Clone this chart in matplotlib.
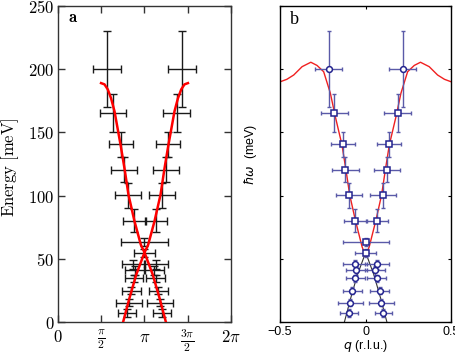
import numpy as np
import matplotlib
matplotlib.use('Agg')
import matplotlib.pyplot as plt

plt.rcParams['mathtext.fontset'] = 'cm'

# ---- data (q in r.l.u.; panel a uses 2*pi*(q+0.5)) ----
energy = [200, 165.5, 140.6, 120.4, 100.3, 80.2, 63.2, 54.8, 45.5, 41.0, 34.5, 24.8, 15.3, 7.2]
q_left = [-0.216, -0.183, -0.134, -0.118, -0.097, -0.060, 0.0, 0.0,
          -0.064, -0.055, -0.061, -0.077, -0.089, -0.099]
q_right = [0.216, 0.187, 0.138, 0.125, 0.103, 0.066, np.nan, np.nan,
           0.067, 0.055, 0.065, 0.081, 0.091, 0.104]
energy_err = [30, 15, 10, 10, 10, 9, 3, 3, 3.5, 3.5, 3, 3, 3, 3]
q_err = [0.080, 0.078, 0.070, 0.077, 0.075, 0.066, 0.134, 0.062,
         0.069, 0.060, 0.055, 0.054, 0.074, 0.052]

# model curves
upper_a_q = [0.0, 0.021, 0.058, 0.093, 0.116, 0.139, 0.174, 0.194, 0.213, 0.232, 0.252]
upper_a_E = [55, 61, 79.7, 100.7, 121.5, 140.3, 166.7, 177, 184, 188, 189]
lower_q = [0.0, 0.048, 0.087, 0.124]
lower_E = [55, 37.4, 19, 0]
upper_b_q = [0.0, 0.021, 0.06, 0.093, 0.115, 0.138, 0.177, 0.206, 0.245, 0.284,
             0.32, 0.371, 0.42, 0.46, 0.5]
upper_b_E = [52, 59.6, 80.5, 100.5, 120.3, 140, 162.4, 181, 198, 203,
             205.5, 202, 195.4, 192, 190]

xa_ticks = [0, np.pi / 2, np.pi, 3 * np.pi / 2, 2 * np.pi]
xa_ticklabels = ['$0$', r'$\frac{\pi}{2}$', r'$\pi$', r'$\frac{3\pi}{2}$', r'$2\pi$']
y_ticks = [0, 50, 100, 150, 200, 250]
xb_ticks = [-0.5, 0, 0.5]
xb_ticklabels = ['\u22120.5', '0', '0.5']

energy = np.array(energy)
q_left = np.array(q_left)
q_right = np.array(q_right)
energy_err = np.array(energy_err)
q_err = np.array(q_err)

def to_rad(q):
    return 2 * np.pi * (np.asarray(q) + 0.5)

fig = plt.figure(figsize=(4.56, 3.54), dpi=100)
axa = fig.add_axes([58.3 / 456, 32 / 354, 172.4 / 456, 316 / 354])
axb = fig.add_axes([280 / 456, 32 / 354, 171.3 / 456, 316 / 354])

# ---------------- panel a ----------------
for qs in (q_left, q_right):
    m = ~np.isnan(qs)
    axa.errorbar(to_rad(qs[m]), energy[m], xerr=2 * np.pi * q_err[m], yerr=energy_err[m],
                 fmt='none', ecolor='#1a1a1a', elinewidth=1.0, capsize=2.6, capthick=1.0,
                 zorder=2)
ua_q = np.array(upper_a_q)
ua_E = np.array(upper_a_E)
lq = np.array(lower_q)
lE = np.array(lower_E)
# branch 1: top-left -> crossing -> bottom-right, branch 2 mirrored
axa.plot(to_rad(np.concatenate([-ua_q[::-1], lq[1:]])),
         np.concatenate([ua_E[::-1], lE[1:]]), color='#ff0000', lw=1.8, zorder=3)
axa.plot(to_rad(np.concatenate([ua_q[::-1], -lq[1:]])),
         np.concatenate([ua_E[::-1], lE[1:]]), color='#ff0000', lw=1.8, zorder=3)

axa.set_xlim(0, 2 * np.pi)
axa.set_ylim(0, 250)
axa.set_xticks(xa_ticks)
axa.set_xticklabels(xa_ticklabels, fontsize=12)
axa.set_yticks(y_ticks)
axa.set_yticklabels(['$%d$' % v for v in y_ticks], fontsize=12)
axa.tick_params(direction='in', length=5, width=1, top=True, right=True, color='#333333')
axa.tick_params(axis='x', pad=4)
axa.tick_params(axis='y', pad=3)
for s in axa.spines.values():
    s.set_linewidth(1.0)
    s.set_color('#333333')
axa.set_ylabel(r'$\mathrm{Energy\ [meV]}$', fontsize=12)
axa.yaxis.set_label_coords(-0.215, 0.49)
axa.text(0.0545, 0.9505, r'$\mathbf{a}$', transform=axa.transAxes, fontsize=12,
         ha='left', va='baseline')

# ---------------- panel b ----------------
ub_q = np.array(upper_b_q)
ub_E = np.array(upper_b_E)
axb.plot(np.concatenate([-ub_q[::-1], ub_q[1:]]), np.concatenate([ub_E[::-1], ub_E[1:]]),
         color='#f02020', lw=1.0, zorder=2)
axb.plot(np.concatenate([-lq[::-1], lq[1:]]), np.concatenate([lE[::-1], lE[1:]]),
         color='#333333', lw=0.8, zorder=1)

blue = '#23238f'
ebcol = '#5a5aa8'
circ = np.zeros(len(energy), dtype=bool)
circ[0] = True
circ[8:] = True
for qs in (q_left, q_right):
    m = ~np.isnan(qs)
    axb.errorbar(qs[m], energy[m], xerr=q_err[m], yerr=energy_err[m], fmt='none',
                 ecolor=ebcol, elinewidth=1.0, capsize=1.6, capthick=1.0, zorder=3)
    for mk, sel in (('o', m & circ), ('s', m & ~circ)):
        axb.plot(qs[sel], energy[sel], linestyle='none', marker=mk, ms=4.2,
                 mfc='white', mec=blue, mew=1.1, zorder=4)

axb.set_xlim(-0.5, 0.5)
axb.set_ylim(0, 250)
axb.set_xticks(xb_ticks)
axb.set_xticklabels(xb_ticklabels, fontsize=9, family='Liberation Sans')
axb.set_yticks(y_ticks)
axb.set_yticklabels([])
axb.tick_params(direction='in', length=2.5, width=0.8, top=True, right=True)
axb.tick_params(axis='x', pad=3)
for s in axb.spines.values():
    s.set_linewidth(1.0)
axb.set_xlabel(r'$q$ (r.l.u.)', fontsize=9, family='Liberation Sans',
               math_fontfamily='dejavusans')
axb.xaxis.set_label_coords(0.5, -0.052)
axb.set_ylabel(r'$\hbar\omega$  (meV)', fontsize=9, family='Liberation Sans',
               math_fontfamily='dejavusans')
axb.yaxis.set_label_coords(-0.12, 0.53)
axb.text(0.058, 0.942, 'b', transform=axb.transAxes, fontsize=13,
         family='Liberation Serif', ha='left', va='baseline')

fig.savefig('out.png', dpi=100)
